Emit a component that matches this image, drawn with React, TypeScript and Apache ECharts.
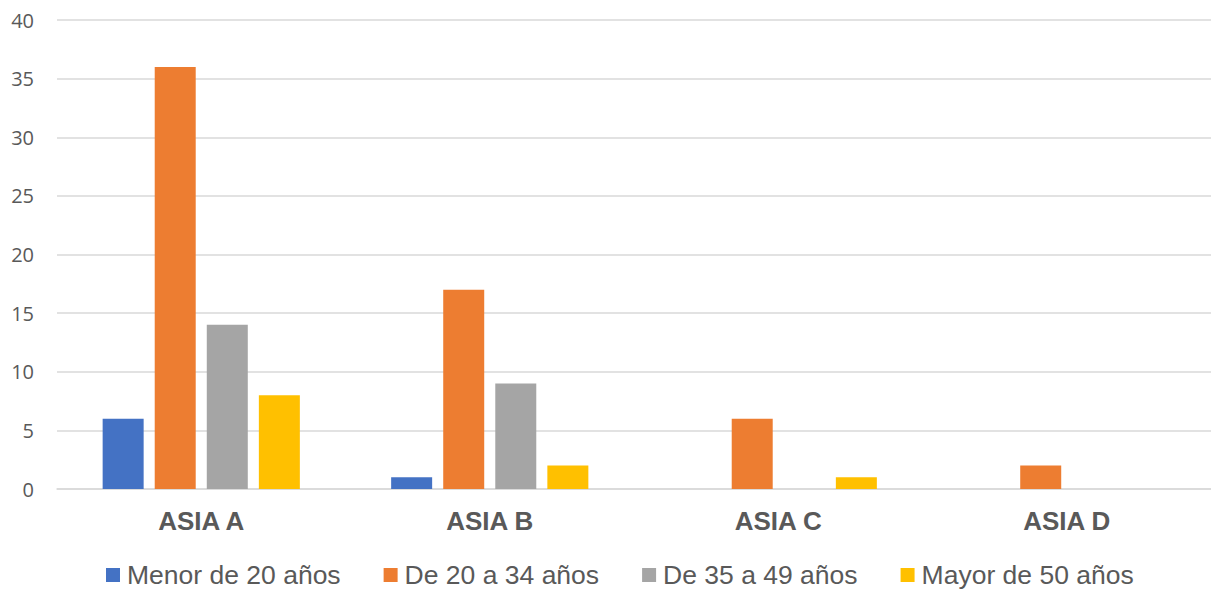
import React, { useEffect, useRef } from "react";
import * as echarts from "echarts";

// Regions shown along the horizontal axis
const categories = ["ASIA A", "ASIA B", "ASIA C", "ASIA D"];

// Age-group series names
const seriesNames = [
  "Menor de 20 años",
  "De 20 a 34 años",
  "De 35 a 49 años",
  "Mayor de 50 años",
];

// Counts per region for each age group
const menor20 = [6, 1, 0, 0];
const de20a34 = [36, 17, 6, 2];
const de35a49 = [14, 9, 0, 0];
const mayor50 = [8, 2, 1, 0];

const seriesColors = ["#4472C4", "#ED7D31", "#A5A5A5", "#FFC000"];

export default function App() {
  const ref = useRef<HTMLDivElement>(null);

  useEffect(() => {
    if (!ref.current) return;
    const chart = echarts.init(ref.current, undefined, { renderer: "svg" });
    const values = [menor20, de20a34, de35a49, mayor50];

    chart.setOption({
      animation: false,
      backgroundColor: "#ffffff",
      color: seriesColors,
      grid: {
        left: 57,
        right: 0,
        top: 20,
        bottom: 101,
        containLabel: false,
      },
      legend: {
        left: 106,
        top: 561,
        padding: 0,
        icon: "rect",
        itemWidth: 14,
        itemHeight: 14,
        itemGap: 43,
        textStyle: {
          fontFamily: "Liberation Sans, Arial, sans-serif",
          fontSize: 26.5,
          lineHeight: 28,
          color: "#595959",
          padding: [0, 0, 0, 2],
        },
        data: seriesNames,
      },
      xAxis: {
        type: "category",
        data: categories,
        axisLine: { show: true, lineStyle: { color: "#d9d9d9", width: 1.5 } },
        axisTick: { show: false },
        axisLabel: {
          margin: 19,
          fontFamily: "Liberation Sans, Arial, sans-serif",
          fontWeight: "bold",
          fontSize: 26,
          color: "#595959",
        },
      },
      yAxis: {
        type: "value",
        min: 0,
        max: 40,
        interval: 5,
        axisLine: { show: false },
        axisTick: { show: false },
        splitLine: { lineStyle: { color: "#d9d9d9", width: 1.5 } },
        axisLabel: {
          margin: 23,
          fontFamily: "Open Sans, sans-serif",
          fontSize: 20,
          color: "#595959",
        },
      },
      series: seriesNames.map((name, i) => ({
        name,
        type: "bar",
        data: values[i],
        barWidth: 41,
        barGap: "27%",
        itemStyle: { color: seriesColors[i] },
      })),
    });

    return () => chart.dispose();
  }, []);

  return (
    <div
      ref={ref}
      style={{ position: "fixed", left: 0, top: 0, width: 1211, height: 590 }}
    />
  );
}
